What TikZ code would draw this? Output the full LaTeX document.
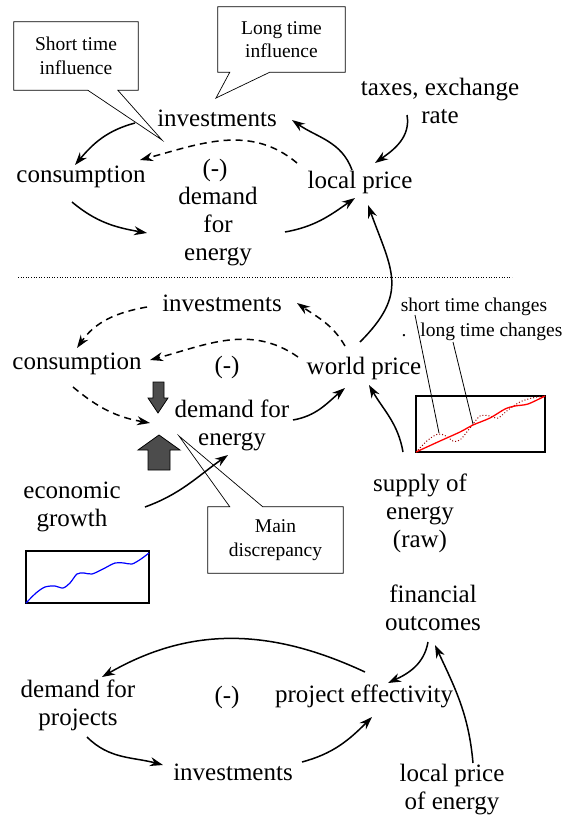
\documentclass[tikz,border=0pt]{standalone}
\usepackage{fontspec}
\setmainfont{Liberation Serif}
\usetikzlibrary{arrows.meta,calc}

\begin{document}
\begin{tikzpicture}[x=1pt, y=1pt,
    lbl/.style={font=\fontsize{25}{28}\selectfont, align=center, inner sep=1pt},
    note/.style={align=center, font=\fontsize{19.5}{23.5}\selectfont, inner sep=2pt},
    noteline/.style={draw, line width=0.7pt, line join=miter},
    small/.style={font=\fontsize{19.5}{23.5}\selectfont, inner sep=1pt},
    arr/.style={line width=1.5pt, -{Stealth[length=13pt,width=9pt]}},
    darr/.style={arr, dash pattern=on 7pt off 5pt},
    chart/.style={draw, line width=1.4pt},
    block/.style={draw, fill=black!70, line width=0.8pt}]
    \useasboundingbox (0,0) rectangle (576,-819);

    % 上段: local price
    \node[lbl] (invA) at (217,-118) {investments};
    \node[lbl] (consA) at (81,-177) {consumption};
    \node[lbl] (signA) at (215,-170) {(-)};
    \node[lbl] (demA) at (218,-227) {demand\\for\\energy};
    \node[lbl] (localA) at (360,-182) {local price};
    \node[lbl] (taxes) at (440,-101) {taxes, exchange\\rate};
    \node[note, minimum width=124pt, minimum height=68pt] (shortNote) at (76,-56) {Short time\\influence};
    \node[note, minimum width=127pt, minimum height=65pt] (longNote) at (281.5,-39.5) {Long time\\influence};

    % 吹き出しの枠
    \draw[noteline] (shortNote.north west) -- (shortNote.north east) -- (shortNote.south east)
      -- ($(shortNote.south west)+(104,0)$) -- ($(invA)+(-55,-22)$)
      -- ($(shortNote.south west)+(74,0)$) -- (shortNote.south west) -- cycle;
    \draw[noteline] (longNote.north west) -- (longNote.north east) -- (longNote.south east)
      -- ($(longNote.south west)+(52,0)$) -- ($(invA)+(-1,20)$)
      -- ($(longNote.south west)+(12,0)$) -- (longNote.south west) -- cycle;

    % 中段: world price
    \node[lbl] (invB) at (222,-303) {investments};
    \node[lbl] (consB) at (77,-364) {consumption};
    \node[lbl] (signB) at (227,-367) {(-)};
    \node[lbl] (demB) at (232,-425) {demand for\\energy};
    \node[lbl] (world) at (364,-368) {world price};
    \node[lbl] (growth) at (72,-507) {economic\\growth};
    \node[lbl] (supply) at (420,-513) {supply of\\energy\\(raw)};
    \node[small] (shortLbl) at (474,-307) {short time changes};
    \node[small] (longLbl) at (482,-332) {.\hspace{14pt}long time changes};
    \node[note, minimum width=135pt, minimum height=66pt] (mainNote) at (275.5,-540) {Main\\discrepancy};
    \draw[noteline] (mainNote.south west) -- (mainNote.south east) -- (mainNote.north east)
      -- ($(mainNote.north west)+(55,0)$) -- ($(demB)+(-53,-11)$)
      -- ($(mainNote.north west)+(22,0)$) -- (mainNote.north west) -- cycle;

    % 下段: projects
    \node[lbl] (fin) at (433,-608) {financial\\outcomes};
    \node[lbl] (demP) at (78,-705) {demand for\\projects};
    \node[lbl] (signC) at (227,-697) {(-)};
    \node[lbl] (effect) at (364,-696) {project effectivity};
    \node[lbl] (invC) at (233,-772) {investments};
    \node[lbl] (localE) at (452,-790) {local price\\of energy};

    % 区切り線
    \draw[dotted, line width=0.6pt] (18,-277) -- (512,-277);

    % グラフ
    \draw[chart] (26,-551) rectangle (149,-603);
    \draw[blue, line width=1.2pt] plot[smooth] coordinates {(26,-603) (36,-593) (45,-587) (55,-586)
      (63,-588) (70,-583) (77,-574) (84,-573) (92,-574) (103,-569) (115,-563) (124,-563)
      (132,-564) (141,-559) (149,-553)};
    \draw[chart] (416,-396) rectangle (545,-452);
    \draw[red!60!black, dotted, line width=1pt] plot[smooth] coordinates {(418,-450) (428,-440)
      (438,-434) (446,-436) (453,-441) (460,-440) (470,-428) (480,-416) (490,-416) (498,-418)
      (508,-410) (520,-402) (532,-398) (545,-396)};
    \draw[red, line width=1.3pt] plot[smooth] coordinates {(416,-452) (440,-441) (460,-432)
      (473,-425) (490,-418) (505,-409) (515,-406) (528,-404) (545,-396)};
    \coordinate (stc) at (439,-433);
    \coordinate (ltc) at (473,-424);
    \draw[line width=0.8pt] ($(shortLbl)+(-59,-8)$) -- (stc);
    \draw[line width=0.8pt] ($(longLbl)+(-29,-10)$) -- (ltc);

    % 太い矢印
    \draw[block] (153,-382) -- (164,-382) -- (164,-398) -- (168,-398) -- (158,-413)
      -- (148,-398) -- (153,-398) -- cycle;
    \draw[block] (148,-470) -- (170,-470) -- (170,-450) -- (180,-450) -- (159,-435)
      -- (138,-450) -- (148,-450) -- cycle;

    % エッジを引く
    \draw[arr] ($(invA)+(-82,-5)$) to[out=195, in=50] ($(consA)+(-6,12)$);
    \draw[darr] ($(localA)+(-63,19)$) to[out=140, in=15] ($(consA)+(59,17)$);
    \draw[arr] ($(consA)+(-9,-25)$) to[out=-40, in=170] ($(demA)+(-71,-6)$);
    \draw[arr] ($(demA)+(67,-5)$) to[out=10, in=215] ($(localA)+(-5,-16)$);
    \draw[arr] ($(localA)+(-8,12)$) to[out=110, in=-35] ($(invA)+(75,-2)$);
    \draw[arr] ($(taxes)+(-33,-14)$) to[out=-80, in=35] ($(localA)+(15,19)$);
    \draw[arr] ($(world)+(-4,26)$) to[out=45, in=-70, looseness=1.3] ($(localA)+(8,-23)$);

    \draw[darr] ($(world)+(-19,22)$) to[out=120, in=-35] ($(invB)+(75,0)$);
    \draw[darr] ($(invB)+(-75,-4)$) to[out=190, in=55] ($(consB)+(0,16)$);
    \draw[darr] ($(world)+(-66,11)$) to[out=145, in=15] ($(consB)+(73,4)$);
    \draw[darr] ($(consB)+(-4,-23)$) to[out=-40, in=170] ($(demB)+(-82,2)$);
    \draw[arr] ($(demB)+(61,5)$) to[out=10, in=220] ($(world)+(-19,-20)$);
    \draw[arr] ($(supply)+(-17,61)$) to[out=100, in=-60] ($(world)+(5,-17)$);
    \draw[arr] ($(growth)+(73,0)$) to[out=20, in=215] ($(demB)+(-4,-30)$);

    \draw[arr] ($(effect)+(1,24)$) to[out=155, in=30] ($(demP)+(24,28)$);
    \draw[arr] ($(fin)+(-5,-34)$) to[out=-100, in=25] ($(effect)+(24,13)$);
    \draw[arr] ($(localE)+(21,27)$) to[out=95, in=-65] ($(fin)+(2,-37)$);
    \draw[arr] ($(demP)+(9,-32)$) to[out=-45, in=165] ($(invC)+(-70,7)$);
    \draw[arr] ($(invC)+(69,10)$) to[out=15, in=225] ($(effect)+(8,-21)$);
\end{tikzpicture}
\end{document}
